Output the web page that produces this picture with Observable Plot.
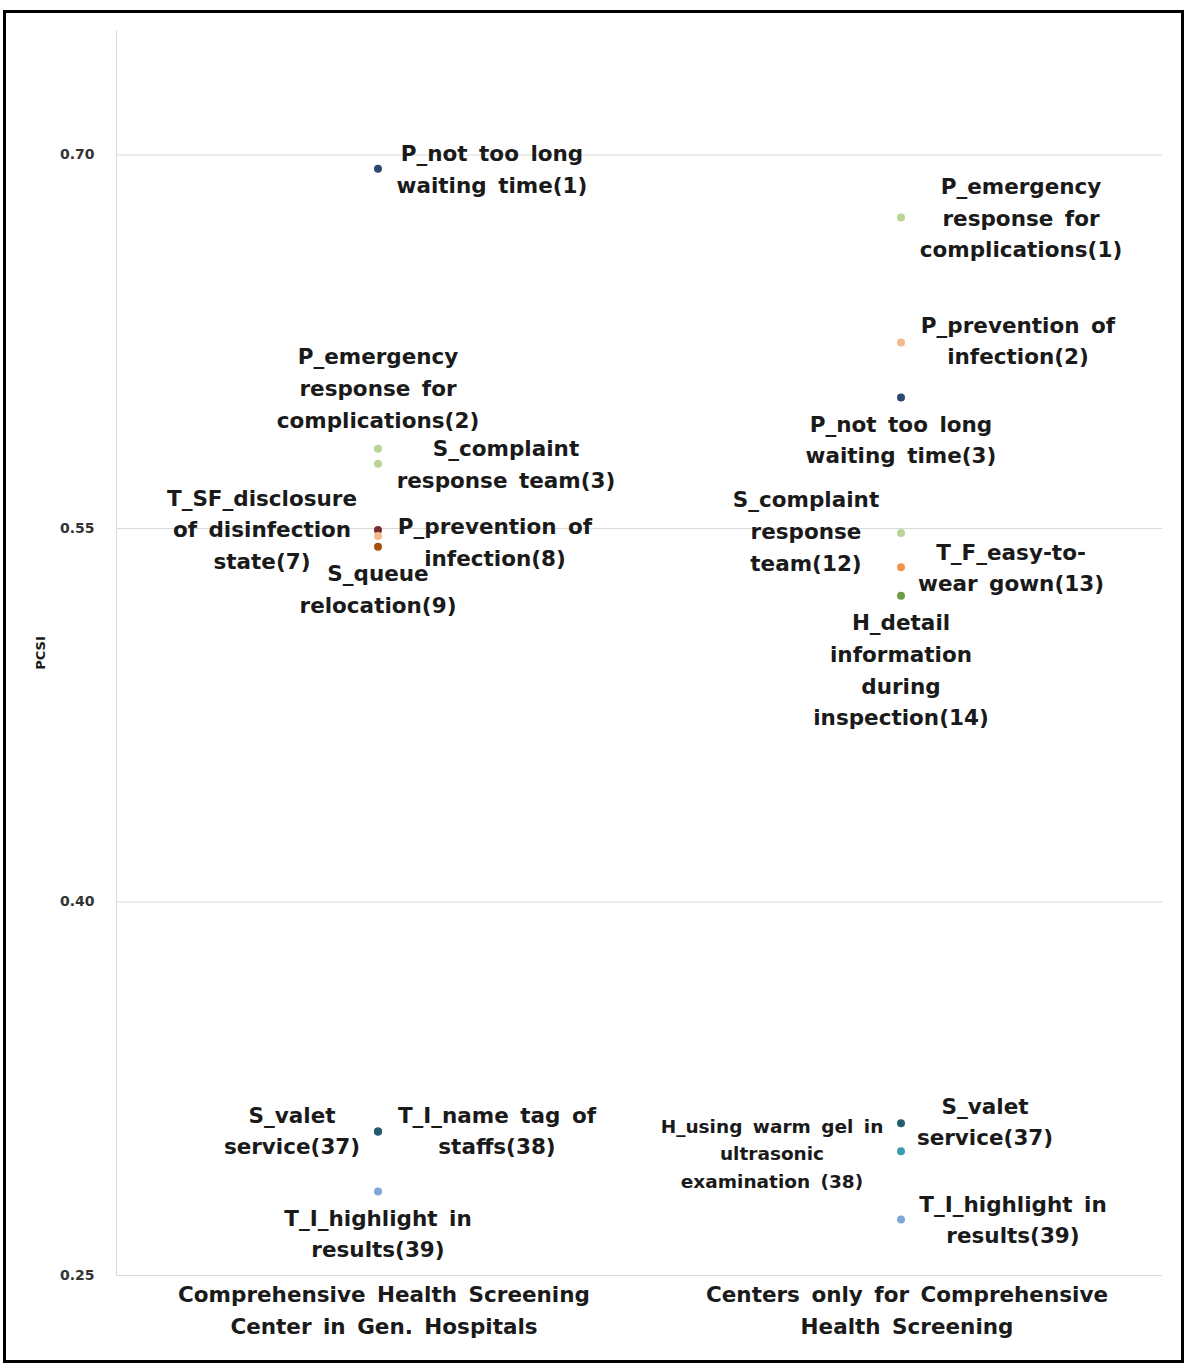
<!DOCTYPE html>
<html><head><meta charset="utf-8">
<script src="https://cdn.jsdelivr.net/npm/d3@7"></script>
<script src="https://cdn.jsdelivr.net/npm/@observablehq/plot@0.6"></script>
<style>
html,body{margin:0;padding:0;background:#fff;}
#wrap{position:relative;width:1203px;height:1364px;overflow:hidden;}
#wrap svg{position:absolute;left:0;top:0;}
#border{position:absolute;left:3px;top:10px;width:1181px;height:1353px;box-sizing:border-box;border:3px solid #000;pointer-events:none;}
</style></head><body>
<div id="wrap"></div>
<script>
// ---- data ----
const categories = [
  "Comprehensive Health Screening Center in Gen. Hospitals",
  "Centers only for Comprehensive Health Screening"
];
const categoryTickLabels = [
  "Comprehensive Health Screening\nCenter in Gen. Hospitals",
  "Centers only for Comprehensive\nHealth Screening"
];
const yTicks = [0.25, 0.40, 0.55, 0.70];
const yLabel = "PCSI";

const hospitalItems = [
  "P_not too long\nwaiting time(1)",
  "P_emergency\nresponse for\ncomplications(2)",
  "S_complaint\nresponse team(3)",
  "T_SF_disclosure\nof disinfection\nstate(7)",
  "P_prevention of\ninfection(8)",
  "S_queue\nrelocation(9)",
  "S_valet\nservice(37)",
  "T_I_name tag of\nstaffs(38)",
  "T_I_highlight in\nresults(39)"
];
const hospitalPCSI = [0.6945, 0.5820, 0.5760, 0.5494, 0.5470, 0.5427, 0.3078, 0.3078, 0.2837];

const centerItems = [
  "P_emergency\nresponse for\ncomplications(1)",
  "P_prevention of\ninfection(2)",
  "P_not too long\nwaiting time(3)",
  "S_complaint\nresponse\nteam(12)",
  "T_F_easy-to-\nwear gown(13)",
  "H_detail\ninformation\nduring\ninspection(14)",
  "S_valet\nservice(37)",
  "H_using warm gel in\nultrasonic\nexamination (38)",
  "T_I_highlight in\nresults(39)"
];
const centerPCSI = [0.6749, 0.6247, 0.6026, 0.5482, 0.5344, 0.5230, 0.3111, 0.2999, 0.2725];

// ---- styles / layout (not data) ----
const hospitalColors = ["#2c4770", "#b8d596", "#b8d596", "#7a2b2b", "#f4b98e", "#a9500f", "#245e6c", "#245e6c", "#80a8d6"];
const centerColors   = ["#b8d596", "#f4b98e", "#2c4770", "#b8d596", "#f2944c", "#6f9d44", "#245e6c", "#3a9db2", "#80a8d6"];
const hospitalLabelOffsets = [[114, -2], [0, -63], [128, -2], [-116, -3], [117, 4], [0, 40], [-86, -3], [119, -3], [0, 40]];
const centerLabelOffsets   = [[120, -2], [117, -4], [0, 40], [-95, -4], [110, -2], [0, 72], [84, -4], [-129, 0], [112, -2]];

const rows = [
  ...hospitalItems.map((label, i) => ({group: categories[0], label, value: hospitalPCSI[i], color: hospitalColors[i], off: hospitalLabelOffsets[i], small: false})),
  ...centerItems.map((label, i) => ({group: categories[1], label, value: centerPCSI[i], color: centerColors[i], off: centerLabelOffsets[i], small: label.startsWith("H_using")}))
];

const font = "DejaVu Sans, Verdana, sans-serif";

const labelMarks = rows.map(d => Plot.text([d], {
  x: "group", y: "value", text: "label",
  dx: d.off[0], dy: d.off[1],
  fontSize: d.small ? 18.5 : 21.5, lineHeight: d.small ? 1.49 : 1.47,
  fontWeight: "bold", fill: "#1a1a1a", textAnchor: "middle"
}));

const chart = Plot.plot({
  width: 1203, height: 1364,
  marginLeft: 116, marginRight: 41, marginTop: 30, marginBottom: 89,
  style: {fontFamily: font, background: "#fff", wordSpacing: "4px"},
  x: {type: "band", domain: categories, padding: 0},
  y: {domain: [0.25, 0.75]},
  color: {type: "identity"},
  marks: [
    Plot.gridY(yTicks, {stroke: "#d9d9d9", strokeOpacity: 1}),
    Plot.frame({anchor: "left", stroke: "#d9d9d9"}),
    Plot.axisY(yTicks, {tickFormat: d3.format(".2f"), tickSize: 0, tickPadding: 22, fontSize: 14, fontWeight: "bold", fill: "#333", label: null}),
    Plot.axisX({tickSize: 0, tickPadding: 4, dx: 6, fontSize: 21.5, fontWeight: "bold", lineHeight: 1.47, fill: "#1a1a1a",
      tickFormat: d => categoryTickLabels[categories.indexOf(d)], label: null}),
    Plot.text([yLabel], {frameAnchor: "left", dx: -76, rotate: -90, textAnchor: "middle", fontSize: 13, fontWeight: "bold", fill: "#1a1a1a"}),
    Plot.dot(rows, {x: "group", y: "value", r: 4, fill: "color", stroke: null}),
    ...labelMarks
  ]
});
const wrap = document.getElementById("wrap");
wrap.appendChild(chart);
const b = document.createElement("div"); b.id = "border"; wrap.appendChild(b);
</script>
</body></html>
